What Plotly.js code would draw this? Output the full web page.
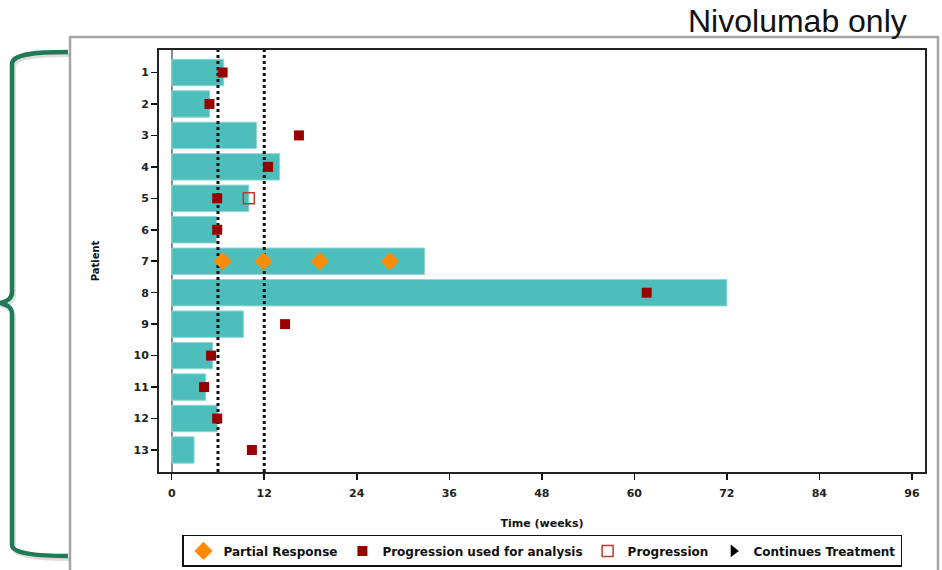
<!DOCTYPE html>
<html>
<head>
<meta charset="utf-8">
<script src="https://cdn.plot.ly/plotly-3.0.1.min.js"></script>
<style>
html,body{margin:0;padding:0;background:#ffffff;}
#chart{width:942px;height:570px;}
</style>
</head>
<body>
<div id="chart"></div>
<script>
// ---- data ----
var patients = [1,2,3,4,5,6,7,8,9,10,11,12,13];
var tickLabels = ["1","2","3","4","5","6","7","8","9","10","11","12","13"];
var treatmentWeeks = [6.75, 4.9, 11.0, 14.0, 10.0, 5.8, 32.8, 72.0, 9.3, 5.3, 4.4, 5.9, 2.9];

var progAnalysisPatients = [1, 2, 3, 4, 5, 6, 8, 9, 10, 11, 12, 13];
var progAnalysisWeeks    = [6.6, 4.9, 16.5, 12.5, 5.9, 5.9, 61.6, 14.7, 5.1, 4.2, 5.9, 10.4];

var progressionPatients = [5];
var progressionWeeks    = [10.0];

var responsePatients = [7, 7, 7, 7];
var responseWeeks    = [6.6, 11.9, 19.2, 28.3];

var continuesPatients = [null];
var continuesWeeks    = [null];

var assessmentWeeks = [6, 12];
var xTicks = [0, 12, 24, 36, 48, 60, 72, 84, 96];

// ---- layout geometry ----
var W = 942, H = 570;
var mL = 159, mR = 17, mT = 50, mB = 98;
var plotW = W - mL - mR, plotH = H - mT - mB;
var xRange = [-1.65, 97.7];
var yRange = [13.7, 0.285];

function px(x){ return ((x - mL) / plotW).toFixed(5); }
function py(y){ return ((H - mB - y) / plotH).toFixed(5); }
function path(cmds){
  return cmds.map(function(c){
    var s = c[0];
    for (var i = 1; i < c.length; i += 2) {
      s += (i > 1 ? ' ' : '') + px(c[i]) + ',' + py(c[i+1]);
    }
    return s;
  }).join(' ');
}

var bracket = [
  ['M', 68,52],
  ['C', 40,52, 12,53, 12,64],
  ['L', 12,292],
  ['C', 12,299, 7,301, 1,303],
  ['C', 7,305, 12,307, 12,314],
  ['L', 12,545],
  ['C', 12,554, 40,556, 68,556]
];
var bracketShadow = bracket.map(function(c){
  var o = [c[0]];
  for (var i = 1; i < c.length; i += 2) { o.push(c[i] + 2, c[i+1] + 3); }
  return o;
});

var traces = [];
traces.push({
  type: 'bar', orientation: 'h',
  x: treatmentWeeks, y: patients,
  width: 0.84,
  marker: {color: '#4DBEBB', line: {color: '#8fd6d3', width: 1}},
  showlegend: false, hoverinfo: 'skip'
});
assessmentWeeks.forEach(function(w){
  traces.push({
    type: 'scatter', mode: 'lines',
    x: [w, w], y: [yRange[0], yRange[1]],
    line: {color: '#111111', width: 3, dash: '3px,3px'},
    showlegend: false, hoverinfo: 'skip'
  });
});
traces.push({
  type: 'scatter', mode: 'markers', name: 'Partial Response',
  x: responseWeeks, y: responsePatients,
  marker: {symbol: 'diamond', size: 14, color: '#FF8C00'}
});
traces.push({
  type: 'scatter', mode: 'markers', name: 'Progression used for analysis',
  x: progAnalysisWeeks, y: progAnalysisPatients,
  marker: {symbol: 'square', size: 10, color: '#990000'}
});
traces.push({
  type: 'scatter', mode: 'markers', name: 'Progression',
  x: progressionWeeks, y: progressionPatients,
  marker: {symbol: 'square-open', size: 11, color: '#C0392B', line: {width: 1.5}}
});
traces.push({
  type: 'scatter', mode: 'markers', name: 'Continues Treatment',
  x: continuesWeeks, y: continuesPatients,
  marker: {symbol: 'triangle-right', size: 11, color: '#000000'}
});

var tickFont = {family: 'DejaVu Sans', size: 11, color: '#222222', weight: 'bold'};

var layout = {
  width: W, height: H,
  margin: {l: mL, r: mR, t: mT, b: mB, pad: 0, autoexpand: false},
  paper_bgcolor: '#ffffff', plot_bgcolor: '#ffffff',
  showlegend: true,
  xaxis: {
    range: xRange, tickvals: xTicks, ticktext: xTicks.map(String),
    ticks: 'outside', ticklen: 6, tickwidth: 1.5, tickcolor: '#111',
    showgrid: false, zeroline: true, zerolinecolor: '#8a8a8a', zerolinewidth: 2,
    showline: true, mirror: true, linecolor: '#222', linewidth: 2,
    tickfont: tickFont, automargin: false, ticklabelstandoff: 4,
    title: {text: 'Time (weeks)', font: {family: 'DejaVu Sans', size: 11, color: '#111', weight: 'bold'}, standoff: 20}
  },
  yaxis: {
    range: yRange, tickvals: patients, ticktext: tickLabels,
    ticks: 'outside', ticklen: 6, tickwidth: 1.5, tickcolor: '#111',
    showgrid: false, zeroline: false,
    showline: true, mirror: true, linecolor: '#222', linewidth: 2,
    tickfont: tickFont, automargin: false,
    title: {text: 'Patient', font: {family: 'DejaVu Sans', size: 10, color: '#111', weight: 'bold'}, standoff: 32}
  },
  legend: {
    orientation: 'h', x: 0.5, xanchor: 'center', y: -0.149, yanchor: 'top',
    bordercolor: '#111', borderwidth: 1.5, bgcolor: '#ffffff',
    font: {family: 'DejaVu Sans', size: 12, color: '#111', weight: 'bold'},
    itemwidth: 30, tracegroupgap: 0
  },
  shapes: [
    {type: 'rect', xref: 'paper', yref: 'paper', layer: 'below',
     x0: px(70), x1: px(938), y0: py(600), y1: py(37),
     line: {color: '#a5a5a5', width: 2.5}, fillcolor: 'rgba(0,0,0,0)'},
    {type: 'path', xref: 'paper', yref: 'paper', path: path(bracketShadow),
     line: {color: 'rgba(120,120,120,0.25)', width: 4}},
    {type: 'path', xref: 'paper', yref: 'paper', path: path(bracket),
     line: {color: '#1F7A55', width: 4.5}}
  ],
  annotations: [
    {text: 'Nivolumab only', xref: 'paper', yref: 'paper',
     x: px(909), y: py(21), xanchor: 'right', yanchor: 'middle', showarrow: false,
     font: {family: 'Liberation Sans, Arial', size: 32, color: '#111'}}
  ]
};

Plotly.newPlot('chart', traces, layout, {displayModeBar: false, staticPlot: true});
</script>
</body>
</html>
